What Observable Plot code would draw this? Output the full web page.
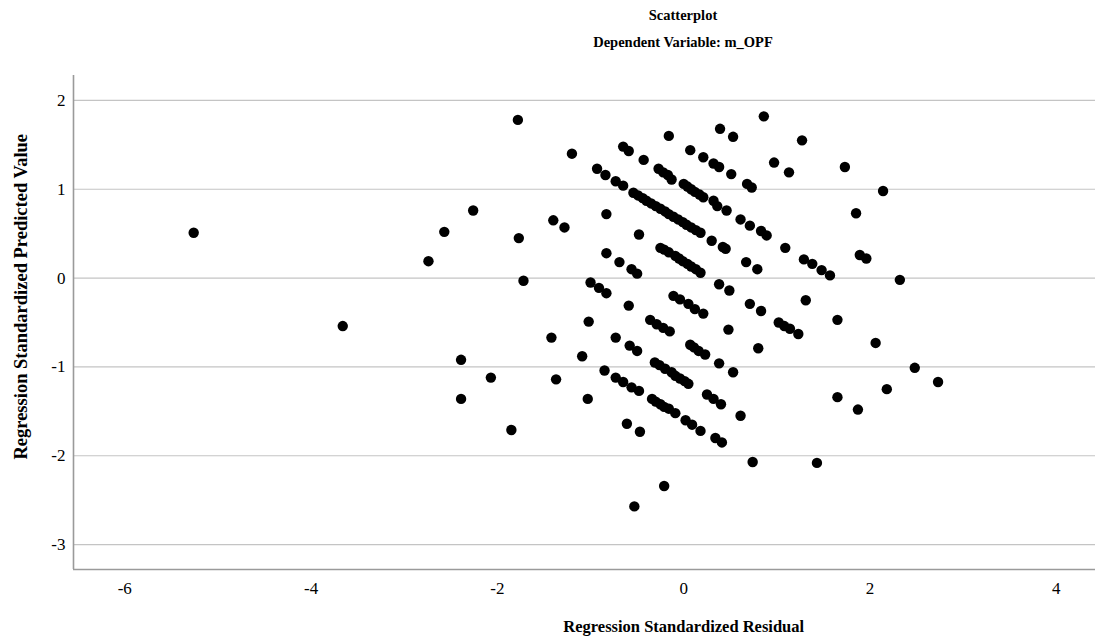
<!DOCTYPE html>
<html>
<head>
<meta charset="utf-8">
<script src="https://cdn.jsdelivr.net/npm/d3@7"></script>
<script src="https://cdn.jsdelivr.net/npm/@observablehq/plot@0.6"></script>
<style>
  html, body { margin: 0; padding: 0; background: #fff; }
  body { width: 1100px; height: 641px; overflow: hidden; font-family: "Liberation Serif", "Times New Roman", serif; color: #000; }
  .t1 { margin-left: 266px; width: 834px; text-align: center; height: 30px; line-height: 30px; font-weight: bold; font-size: 14.5px; }
  .t2 { margin-left: 266px; width: 834px; text-align: center; height: 24px; line-height: 24px; font-weight: bold; font-size: 14.5px; }
  #chart svg { display: block; }
</style>
</head>
<body>
<div class="t1">Scatterplot</div>
<div class="t2">Dependent Variable: m_OPF</div>
<div id="chart"></div>
<script>
const title = "Scatterplot";
const subtitle = "Dependent Variable: m_OPF";
const xLabel = "Regression Standardized Residual";
const yLabel = "Regression Standardized Predicted Value";
const xTicks = [-6, -4, -2, 0, 2, 4];
const yTicks = [-3, -2, -1, 0, 1, 2];
const xDomain = [-6.55, 4.42];
const yDomain = [-3.28, 2.28];

// Regression standardized residual (x) and standardized predicted value (y)
const residual = [
  -5.26, -3.66, -2.74, -2.57, -2.26, -2.39, -2.39, -2.07, -1.85, -1.78,
  -1.77, -1.72, -1.40, -1.28, -1.42, -1.37, -1.20, -1.09, -1.02, -1.03,
  -1.00, -0.91, -0.83, -0.93, -0.84, -0.73, -0.65, -0.83, -0.83, -0.69,
  -0.56, -0.50, -0.85, -0.73, -0.65, -0.56, -0.48, -0.73, -0.58, -0.50,
  -0.59, -0.65, -0.59, -0.43, -0.16, -0.48, -0.61, -0.47, -0.53, -0.21,
  -0.36, -0.29, -0.22, -0.15,
  -0.31, -0.26, -0.20, -0.13, -0.09, -0.04, 0.01, 0.05,
  -0.34, -0.30, -0.25, -0.21, -0.16, -0.09,
  0.02, 0.09, 0.18, 0.34, 0.41, 0.74, 1.43,
  -0.11, -0.04, 0.05, 0.12, 0.21,
  0.07, 0.11, 0.16, 0.23,
  0.25, 0.32, 0.40, 0.61, 0.38, 0.53, 0.48, 0.38, 0.49,
  0.71, 0.83, 1.31, 1.02, 1.08, 1.14, 1.23, 1.65, 0.80, 2.06,
  1.65, 1.87, 2.18, 2.48, 2.73, 2.32, 2.14,
  0.39, 0.53, 0.86, 1.27, 0.97, 1.13, 1.73, 1.85, 1.89, 1.96,
  0.07, 0.21, 0.32, 0.38, 0.51, 0.68, 0.73,
  -0.27, -0.22, -0.17, -0.13,
  0.00, 0.04, 0.08, 0.12, 0.17, 0.21,
  0.32, 0.36, 0.46, 0.61, 0.71, 0.83, 0.89, 1.09, 1.29, 1.38, 1.48, 1.57,
  -0.54, -0.49, -0.44, -0.40, -0.35, -0.30, -0.25, -0.20, -0.16, -0.11,
  -0.06, -0.01, 0.03, 0.08, 0.13, 0.18,
  0.30, 0.42, 0.45,
  -0.25, -0.21, -0.16,
  -0.09, -0.05, -0.01, 0.04, 0.08, 0.13, 0.18,
  0.67, 0.79
];
const predicted = [
  0.51, -0.54, 0.19, 0.52, 0.76, -0.92, -1.36, -1.12, -1.71, 1.78,
  0.45, -0.03, 0.65, 0.57, -0.67, -1.14, 1.40, -0.88, -0.49, -1.36,
  -0.05, -0.11, -0.17, 1.23, 1.16, 1.09, 1.04, 0.72, 0.28, 0.18,
  0.10, 0.05, -1.04, -1.12, -1.17, -1.23, -1.27, -0.67, -0.76, -0.82,
  -0.31, 1.48, 1.43, 1.33, 1.60, 0.49, -1.64, -1.73, -2.57, -2.34,
  -0.47, -0.52, -0.56, -0.60,
  -0.95, -0.98, -1.02, -1.06, -1.10, -1.13, -1.16, -1.19,
  -1.36, -1.39, -1.42, -1.45, -1.47, -1.52,
  -1.60, -1.65, -1.72, -1.80, -1.85, -2.07, -2.08,
  -0.20, -0.24, -0.29, -0.35, -0.40,
  -0.75, -0.78, -0.82, -0.86,
  -1.31, -1.36, -1.42, -1.55, -0.96, -1.06, -0.58, -0.07, -0.14,
  -0.29, -0.37, -0.25, -0.50, -0.54, -0.57, -0.63, -0.47, -0.79, -0.73,
  -1.34, -1.48, -1.25, -1.01, -1.17, -0.02, 0.98,
  1.68, 1.59, 1.82, 1.55, 1.30, 1.19, 1.25, 0.73, 0.26, 0.22,
  1.44, 1.36, 1.29, 1.25, 1.17, 1.06, 1.02,
  1.23, 1.19, 1.16, 1.11,
  1.06, 1.03, 1.00, 0.97, 0.94, 0.91,
  0.87, 0.81, 0.76, 0.66, 0.59, 0.53, 0.48, 0.34, 0.21, 0.16, 0.09, 0.03,
  0.96, 0.93, 0.90, 0.87, 0.84, 0.81, 0.78, 0.75, 0.72, 0.69,
  0.66, 0.63, 0.60, 0.57, 0.54, 0.51,
  0.42, 0.35, 0.33,
  0.34, 0.32, 0.29,
  0.25, 0.22, 0.19, 0.16, 0.13, 0.10, 0.06,
  0.18, 0.10
];

const points = residual.map((r, i) => ({residual: r, predicted: predicted[i]}));
const serif = "Liberation Serif, Times New Roman, serif";
const fmt = d => String(d);

const chart = Plot.plot({
  width: 1100,
  height: 587,
  marginLeft: 73,
  marginRight: 5,
  marginTop: 21,
  marginBottom: 72,
  style: {fontFamily: serif, fontSize: "16px", color: "#000", background: "#fff"},
  x: {domain: xDomain, ticks: xTicks, tickFormat: fmt},
  y: {domain: yDomain, ticks: yTicks, tickFormat: fmt},
  marks: [
    Plot.gridY(yTicks, {stroke: "#c4c4c4", strokeOpacity: 1, strokeWidth: 1.2}),
    Plot.ruleX([xDomain[0]], {stroke: "#9a9a9a", strokeWidth: 1.6}),
    Plot.ruleY([yDomain[0]], {stroke: "#9a9a9a", strokeWidth: 1.6}),
    Plot.axisX(xTicks, {tickSize: 0, tickPadding: 12, label: null, tickFormat: fmt, fontSize: 17, fontFamily: serif, fill: "#000"}),
    Plot.axisY(yTicks, {tickSize: 0, tickPadding: 8, label: null, tickFormat: fmt, fontSize: 17, fontFamily: serif, fill: "#000"}),
    Plot.dot(points, {x: "residual", y: "predicted", r: 5.2, fill: "#000", stroke: "none"}),
    Plot.text([xLabel], {x: 0, frameAnchor: "bottom", dy: 62, fontWeight: "bold", fontSize: 16.5, fontFamily: serif, fill: "#000"}),
    Plot.text([yLabel], {y: -0.21, frameAnchor: "left", dx: -52, rotate: -90, textAnchor: "middle", fontWeight: "bold", fontSize: 18.5, fontFamily: serif, fill: "#000"})
  ]
});
document.getElementById("chart").appendChild(chart);
</script>
</body>
</html>
